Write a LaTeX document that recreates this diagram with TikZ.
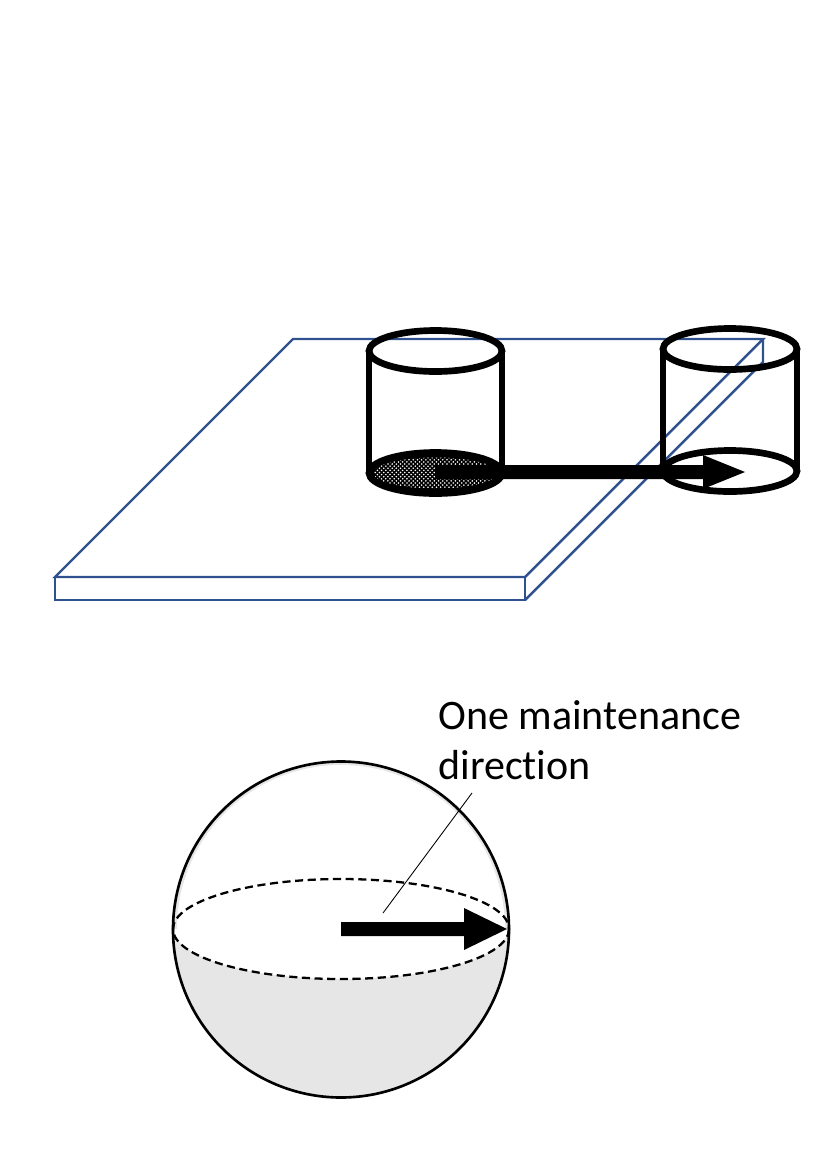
\documentclass[tikz,border=0pt]{standalone}
\usepackage{fontspec}
\setmainfont[Ligatures=NoCommon]{Carlito}
\usetikzlibrary{patterns}
\definecolor{plateblue}{RGB}{47,82,143}
\definecolor{shellgray}{RGB}{230,230,230}
\pgfdeclarepatternformonly{coarse dots}{\pgfqpoint{-1pt}{-1pt}}{\pgfqpoint{3pt}{3pt}}{\pgfqpoint{2.4pt}{2.4pt}}
{
	\pgfpathcircle{\pgfqpoint{0pt}{0pt}}{0.5pt}
	\pgfpathcircle{\pgfqpoint{1.2pt}{1.2pt}}{0.5pt}
	\pgfusepath{fill}
}
\tikzset{
	plate/.style={draw=plateblue, line width=1.4pt, line join=miter},
	cyl/.style={draw=black, line width=3.8pt},
	shell/.style={draw=black, line width=1.5pt},
	equator/.style={draw=black, line width=1.3pt, dash pattern=on 4.6pt off 2.6pt},
	leader/.style={draw=black, line width=0.5pt},
}
\newcommand{\cylinder}[5] % x of axis, y of top, y of bottom, radius x, radius y (all in px)
{
	% side walls
	\draw[cyl] (#1-#4,#2) -- (#1-#4,#3);
	\draw[cyl] (#1+#4,#2) -- (#1+#4,#3);
	% top rim
	\draw[cyl] (#1,#2) ellipse (#4 and #5);
}
\newcommand{\blockarrow}[6] % x start, x base, x tip, y, half shaft, half head
{
	\fill[black] (#1,#4-#5) -- (#2,#4-#5) -- (#2,#4-#6) -- (#3,#4) -- (#2,#4+#6) -- (#2,#4+#5) -- (#1,#4+#5) -- cycle;
}
\begin{document}
\begin{tikzpicture}[x=0.02cm,y=-0.02cm]
	\useasboundingbox (0,0) rectangle (831,1164);
	% plate
	\draw[plate] (55,577) -- (293,339) -- (763,339) -- (525,577) -- cycle;
	\draw[plate] (55,577) -- (55,600) -- (525,600) -- (525,577);
	\draw[plate] (525,600) -- (763,362) -- (763,339);
	% start position
	\draw[cyl, fill=black] (435.5,473) ellipse (66.5 and 20.5);
	\fill[pattern=coarse dots, pattern color=white] (435.5,473) ellipse (62 and 15.5);
	\cylinder{435.5}{351}{473}{66.5}{20.5}
	% end position
	\draw[cyl, fill=white] (730,471) ellipse (67 and 20.5);
	\cylinder{730}{349}{471}{67}{20.5}
	% motion on plate
	\blockarrow{435}{703}{745}{472}{7}{17}
	% sphere
	\fill[shellgray] (341,929.5) circle (168);
	\fill[white] (508,929) arc[start angle=0, end angle=180, x radius=167, y radius=50] -- (177,929) arc[start angle=180, end angle=360, radius=164] -- cycle;
	\draw[shell] (341,929.5) circle (168);
	\draw[equator] (341,929) ellipse (168 and 50);
	% direction on sphere
	\blockarrow{341}{464}{507}{929}{7}{21}
	\node[anchor=north west, align=left, inner sep=0pt, font=\fontsize{23.9}{28.6}\selectfont] (label) at (438,700) {One maintenance\\direction};
	\coordinate (leadertop) at (472,793);
	\coordinate (leaderend) at (383,913);
	\draw[leader] (leadertop) -- (leaderend);
\end{tikzpicture}
\end{document}
